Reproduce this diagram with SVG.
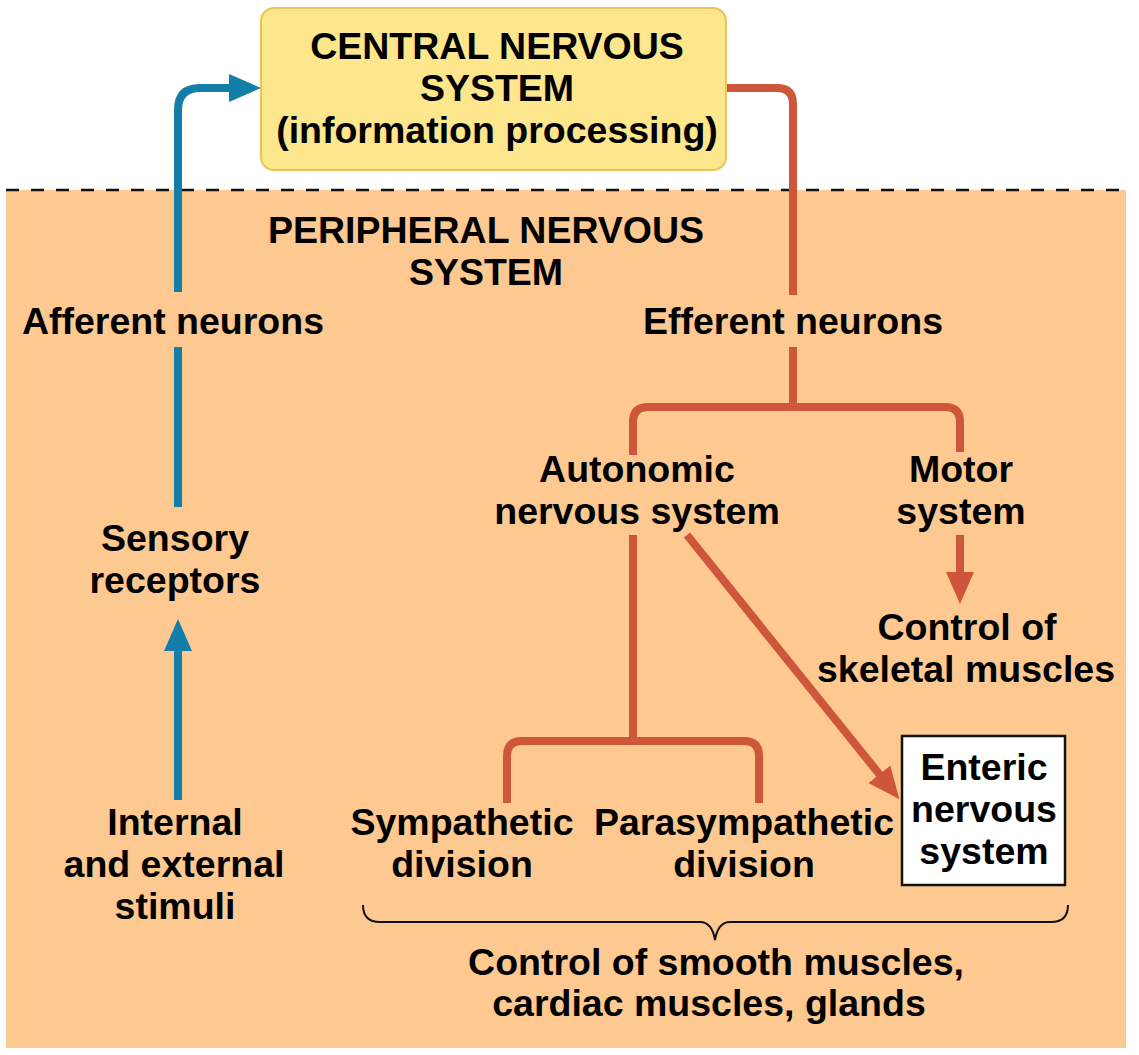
<svg xmlns="http://www.w3.org/2000/svg" width="1139" height="1055" viewBox="0 0 1139 1055">
<style>
text{font-family:"Liberation Sans",Arial,sans-serif;font-weight:bold;font-size:37.5px;fill:#000;text-anchor:middle}
.blue{fill:none;stroke:#137EA8;stroke-width:8}
.red{fill:none;stroke:#CE563B;stroke-width:8}
.brace{fill:none;stroke:#111;stroke-width:2}
</style>
<defs>
<marker id="hb" markerUnits="userSpaceOnUse" markerWidth="40" markerHeight="40" viewBox="0 -20 40 40" refX="1" refY="0" orient="auto"><path d="M0,-14 L32,0 L0,14 z" fill="#137EA8"/></marker>
<marker id="hr" markerUnits="userSpaceOnUse" markerWidth="40" markerHeight="40" viewBox="0 -20 40 40" refX="1" refY="0" orient="auto"><path d="M0,-14 L32,0 L0,14 z" fill="#CE563B"/></marker>
</defs>
<rect width="1139" height="1055" fill="#fff"/>
<rect id="pns-area" x="6" y="190" width="1120" height="858" fill="#FEC991"/>
<line x1="6" y1="190" x2="1126" y2="190" stroke="#111" stroke-width="2.5" stroke-dasharray="13 12"/>
<g id="connectors">
<path class="blue" d="M178 292 V110 Q178 88 200 88 H230" marker-end="url(#hb)"/>
<path class="blue" d="M178 347 V507"/>
<path class="blue" d="M178 800 V650" marker-end="url(#hb)"/>
<path class="red" d="M726 88 H777 Q793 88 793 104 V295"/>
<path class="red" d="M793 347 V407"/>
<path class="red" d="M633 455 V422 Q633 407 648 407 H945 Q960 407 960 422 V452"/>
<path class="red" d="M633 535 V741"/>
<path class="red" d="M507 803 V756 Q507 741 522 741 H744 Q759 741 759 756 V803"/>
<path class="red" d="M687 535 L880 775" marker-end="url(#hr)"/>
<path class="red" d="M960 535 V573" marker-end="url(#hr)"/>
<path class="brace" d="M363 905 Q363 922 380 922 H700 Q712 922 715 940 Q718 922 730 922 H1051 Q1068 922 1068 905"/>
</g>
<g id="cns">
<rect x="261" y="8" width="465" height="162" rx="13" fill="#FDE68C" stroke="#EBC457" stroke-width="2"/>
<text x="497" y="59">CENTRAL NERVOUS</text>
<text x="497" y="101">SYSTEM</text>
<text x="497" y="143">(information processing)</text>
</g>
<g id="pns"><text x="486" y="243">PERIPHERAL NERVOUS</text><text x="486" y="285">SYSTEM</text></g>
<g id="afferent"><text x="173" y="334">Afferent neurons</text></g>
<g id="efferent"><text x="793" y="334">Efferent neurons</text></g>
<g id="autonomic"><text x="637" y="482">Autonomic</text><text x="637" y="524">nervous system</text></g>
<g id="motor"><text x="961" y="482">Motor</text><text x="961" y="524">system</text></g>
<g id="sensory"><text x="175" y="551">Sensory</text><text x="175" y="593">receptors</text></g>
<g id="skeletal"><text x="967" y="640">Control of</text><text x="966" y="682">skeletal muscles</text></g>
<g id="enteric">
<rect x="902" y="736" width="163" height="149" fill="#fff" stroke="#111" stroke-width="2.5"/>
<text x="984" y="780">Enteric</text><text x="984" y="822">nervous</text><text x="984" y="864">system</text>
</g>
<g id="stimuli"><text x="175" y="835">Internal</text><text x="174" y="877">and external</text><text x="175" y="919">stimuli</text></g>
<g id="sympathetic"><text x="462" y="835">Sympathetic</text><text x="462" y="877">division</text></g>
<g id="parasympathetic"><text x="744" y="835">Parasympathetic</text><text x="744" y="877">division</text></g>
<g id="smooth"><text x="716" y="975">Control of smooth muscles,</text><text x="709" y="1016">cardiac muscles, glands</text></g>
</svg>
